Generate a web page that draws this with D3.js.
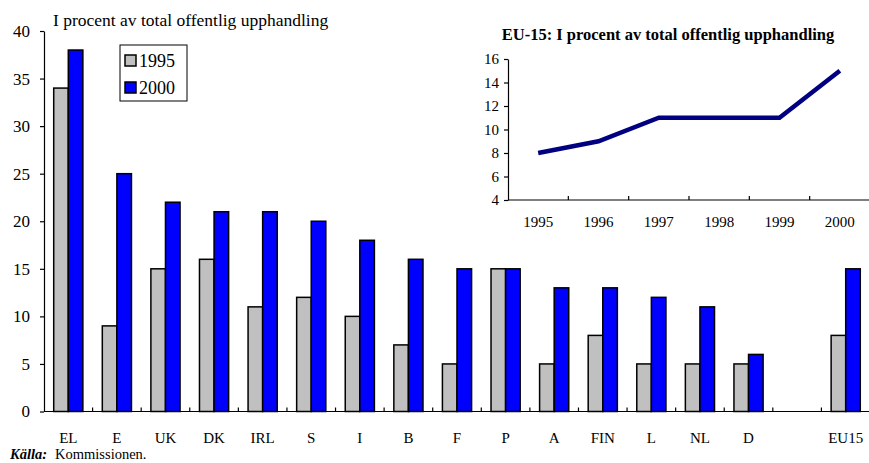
<!DOCTYPE html>
<html>
<head>
<meta charset="utf-8">
<script src="https://cdn.jsdelivr.net/npm/d3@7"></script>
<style>
  body { margin: 0; background: #fff; }
  svg, svg text, svg g { font-family: "Liberation Serif", "Times New Roman", serif !important; }
  svg text { fill: #000; }
  .axis path, .axis line { stroke: #000; stroke-width: 1.2; }
</style>
</head>
<body>
<script>
  'use strict';

  // main chart data
  const countries = ['EL', 'E', 'UK', 'DK', 'IRL', 'S', 'I', 'B', 'F', 'P', 'A', 'FIN', 'L', 'NL', 'D', '', 'EU15'];
  const values1995 = [34, 9, 15, 16, 11, 12, 10, 7, 5, 15, 5, 8, 5, 5, 5, null, 8];
  const values2000 = [38, 25, 22, 21, 21, 20, 18, 16, 15, 15, 13, 13, 12, 11, 6, null, 15];
  const yTicks = [0, 5, 10, 15, 20, 25, 30, 35, 40];

  // inset data
  const years = ['1995', '1996', '1997', '1998', '1999', '2000'];
  const eu15 = [8, 9, 11, 11, 11, 15];
  const insetTicks = [4, 6, 8, 10, 12, 14, 16];

  const w = 869;
  const h = 463;
  const serif = '"Liberation Serif", "Times New Roman", serif';

  const svg = d3.select('body')
    .append('svg')
    .attr('width', w)
    .attr('height', h)
    .attr('font-family', serif);

  // scales for the main chart
  const xScale = d3.scaleBand()
    .domain(d3.range(countries.length))
    .range([44, 870]);

  const yScale = d3.scaleLinear()
    .domain([0, 40])
    .range([411.5, 31]);

  const barW = xScale.bandwidth() * 0.3;
  const idx = d3.range(countries.length);

  // bars
  svg.selectAll('rect.b1995')
    .data(idx.filter((i) => values1995[i] !== null))
    .enter()
    .append('rect')
    .attr('class', 'b1995')
    .attr('x', (i) => xScale(i) + xScale.bandwidth() / 2 - barW)
    .attr('y', (i) => yScale(values1995[i]))
    .attr('width', barW)
    .attr('height', (i) => yScale(0) - yScale(values1995[i]))
    .attr('fill', '#c0c0c0')
    .attr('stroke', '#000')
    .attr('stroke-width', 1.5);

  svg.selectAll('rect.b2000')
    .data(idx.filter((i) => values2000[i] !== null))
    .enter()
    .append('rect')
    .attr('class', 'b2000')
    .attr('x', (i) => xScale(i) + xScale.bandwidth() / 2)
    .attr('y', (i) => yScale(values2000[i]))
    .attr('width', barW)
    .attr('height', (i) => yScale(0) - yScale(values2000[i]))
    .attr('fill', '#0000ff')
    .attr('stroke', '#000')
    .attr('stroke-width', 1.5);

  // y axis
  const yAxis = d3.axisLeft(yScale).tickValues(yTicks).tickSize(4).tickSizeOuter(0);
  const yG = svg.append('g')
    .attr('class', 'axis')
    .attr('transform', 'translate(44,0)')
    .call(yAxis)
    .attr('font-family', serif);
  yG.selectAll('text')
    .attr('x', -14)
    .style('font-size', '17px');

  // x axis with tick marks between categories
  const xAxisG = svg.append('g')
    .attr('class', 'axis')
    .attr('transform', 'translate(0,' + yScale(0) + ')');
  xAxisG.append('line')
    .attr('x1', 44).attr('x2', 870)
    .attr('y1', 0).attr('y2', 0);
  xAxisG.selectAll('line.tick')
    .data(d3.range(1, countries.length))
    .enter()
    .append('line')
    .attr('class', 'tick')
    .attr('x1', (d) => xScale(d))
    .attr('x2', (d) => xScale(d))
    .attr('y1', 0)
    .attr('y2', -4);
  xAxisG.selectAll('text')
    .data(countries)
    .enter()
    .append('text')
    .attr('x', (d, i) => xScale(i) + xScale.bandwidth() / 2)
    .attr('y', 31)
    .attr('text-anchor', 'middle')
    .style('font-size', '15px')
    .text((d) => d);

  // title
  svg.append('text')
    .attr('x', 53)
    .attr('y', 26)
    .style('font-size', '17.5px')
    .text('I procent av total offentlig upphandling');

  // legend
  const legend = svg.append('g').attr('transform', 'translate(120,45)');
  legend.append('rect')
    .attr('width', 67).attr('height', 56)
    .attr('fill', '#fff').attr('stroke', '#000').attr('stroke-width', 1);
  const legendItems = [['1995', '#c0c0c0'], ['2000', '#0000ff']];
  legendItems.forEach((item, i) => {
    legend.append('rect')
      .attr('x', 5).attr('y', 10 + i * 27)
      .attr('width', 11).attr('height', 11)
      .attr('fill', item[1]).attr('stroke', '#000').attr('stroke-width', 1.5);
    legend.append('text')
      .attr('x', 19).attr('y', 22 + i * 27)
      .style('font-size', '18px')
      .text(item[0]);
  });

  // inset line chart
  const ix = d3.scaleBand().domain(years).range([508, 870]);
  const iy = d3.scaleLinear().domain([4, 16]).range([200, 59]);

  svg.append('text')
    .attr('x', 668)
    .attr('y', 40)
    .attr('text-anchor', 'middle')
    .style('font-size', '16.5px')
    .style('font-weight', 'bold')
    .text('EU-15: I procent av total offentlig upphandling');

  const iyG = svg.append('g')
    .attr('class', 'axis')
    .attr('transform', 'translate(508,0)')
    .call(d3.axisLeft(iy).tickValues(insetTicks).tickSize(4).tickSizeOuter(0))
    .attr('font-family', serif);
  iyG.selectAll('text')
    .attr('x', -9)
    .style('font-size', '15px');

  const ixG = svg.append('g')
    .attr('class', 'axis')
    .attr('transform', 'translate(0,200)');
  ixG.append('line')
    .attr('x1', 508).attr('x2', 870)
    .attr('y1', 0).attr('y2', 0);
  ixG.selectAll('line.tick')
    .data(years.slice(1))
    .enter()
    .append('line')
    .attr('class', 'tick')
    .attr('x1', (d) => ix(d))
    .attr('x2', (d) => ix(d))
    .attr('y1', 0)
    .attr('y2', -4);
  ixG.selectAll('text')
    .data(years)
    .enter()
    .append('text')
    .attr('x', (d) => ix(d) + ix.bandwidth() / 2)
    .attr('y', 27)
    .attr('text-anchor', 'middle')
    .style('font-size', '15px')
    .text((d) => d);

  const line = d3.line()
    .x((d, i) => ix(years[i]) + ix.bandwidth() / 2)
    .y((d) => iy(d));
  svg.append('path')
    .datum(eu15)
    .attr('d', line)
    .attr('fill', 'none')
    .attr('stroke', '#000080')
    .attr('stroke-width', 4.5);

  // source note
  const src = svg.append('text').attr('x', 10).attr('y', 459).style('font-size', '14.5px');
  src.append('tspan')
    .style('font-weight', 'bold')
    .style('font-style', 'italic')
    .text('Källa:');
  src.append('tspan')
    .attr('dx', 8)
    .text('Kommissionen.');
</script>
</body>
</html>
